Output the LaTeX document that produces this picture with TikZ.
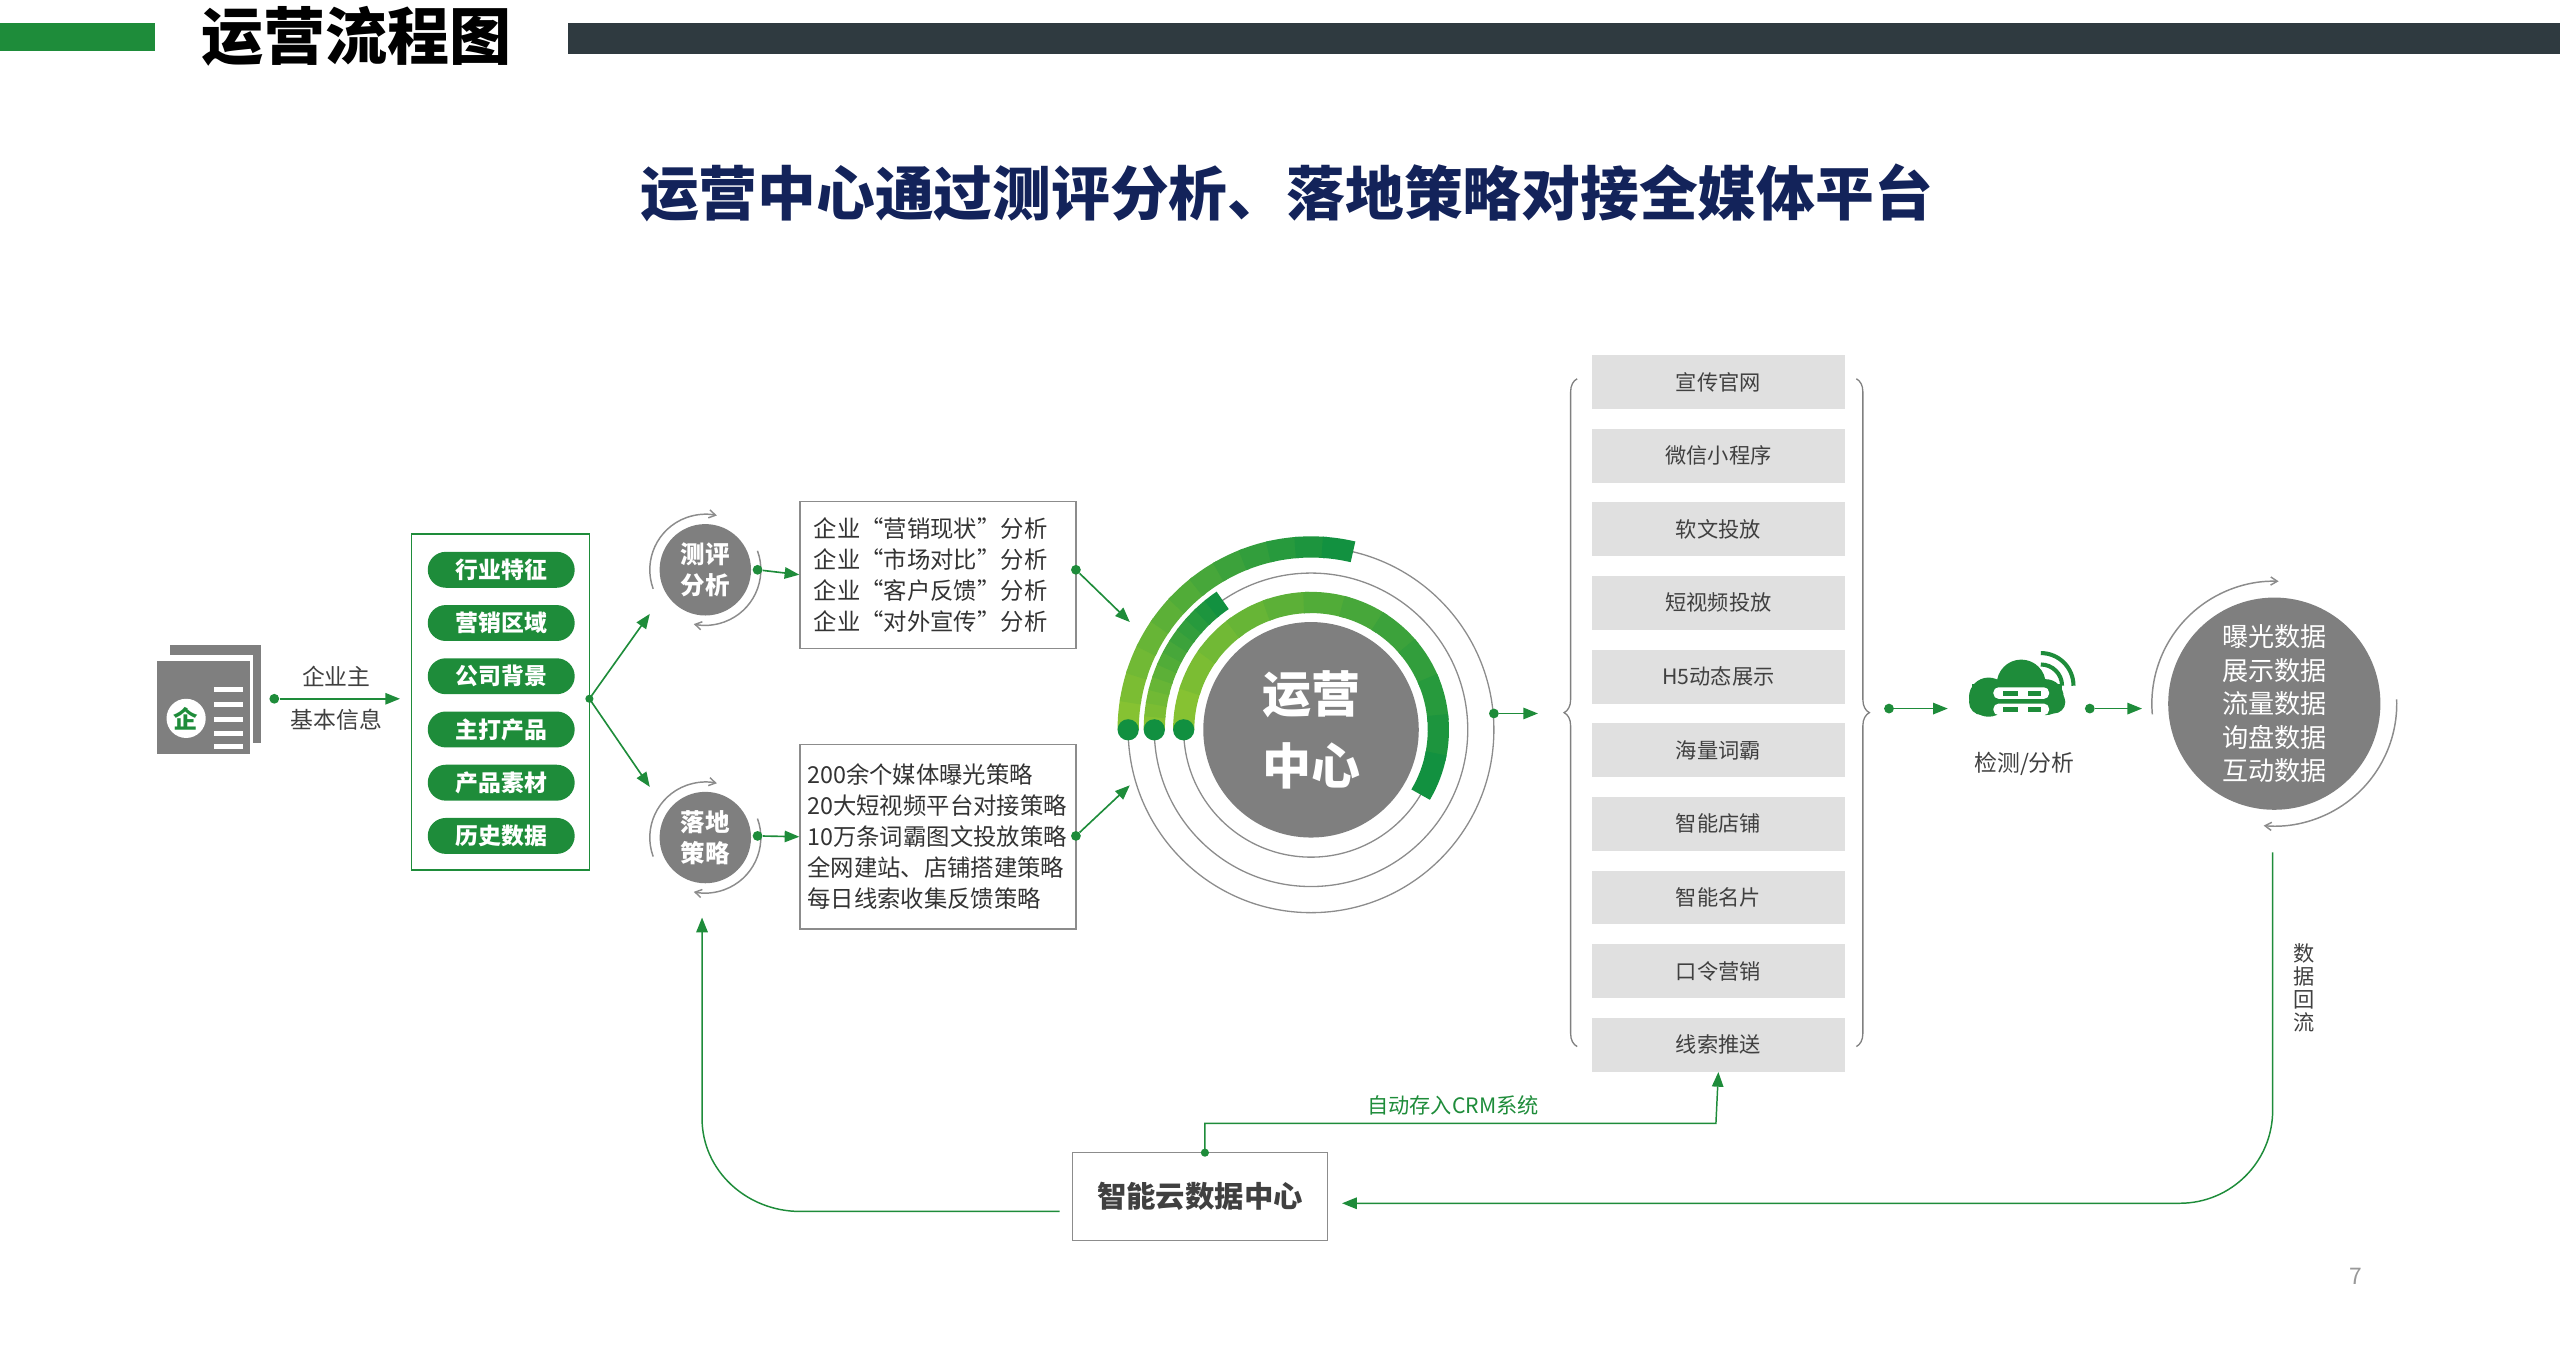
\documentclass[tikz,border=0pt]{standalone}
\usepackage{fontspec}
\setmainfont{Noto Sans CJK SC}
\usetikzlibrary{positioning,arrows.meta,decorations.pathreplacing}
\definecolor{gmain}{HTML}{1E8C3A}
\definecolor{glight}{HTML}{86C232}
\definecolor{gdark}{HTML}{119040}
\definecolor{graydisc}{HTML}{7F7F7F}
\definecolor{navy}{HTML}{13235A}
\definecolor{barc}{HTML}{2F3A40}
\tikzset{
  pill/.style={fill=gmain, rounded corners=11pt, minimum width=90pt, minimum height=22pt, text=white, font=\fontsize{14}{14}\selectfont\bfseries, inner sep=0pt},
  media/.style={fill=black!12, minimum width=155pt, minimum height=33pt, text=black!75, font=\fontsize{13}{13}\selectfont, inner sep=0pt},
  disc/.style={circle, fill=graydisc, text=white, align=center, inner sep=0pt},
  flow/.style={gmain, line width=1pt, -{Triangle[length=9pt,width=7pt]}},
  spin/.style={black!45, line width=0.9pt, -{Straight Barb[length=4pt,width=5pt]}},
  dot/.style={circle, fill=gmain, inner sep=0pt, minimum size=6pt},
  txtbox/.style={draw=black!45, line width=0.8pt, align=left, inner sep=0pt, font=\fontsize{14.3}{19}\selectfont, text=black!80}
}
\begin{document}
\begin{tikzpicture}[x=1pt,y=1pt]
  \useasboundingbox (0,0) rectangle (1568,-840);
  % header
  \fill[gmain] (0,-14) rectangle (95,-31);
  \fill[barc] (348,-14) rectangle (1568,-33);
  \node[font=\fontsize{38}{38}\selectfont\bfseries, anchor=west] (head) at (120,-22) {运营流程图};
  \node[font=\fontsize{36}{36}\selectfont\bfseries, text=navy] (title) at (788,-118) {运营中心通过测评分析、落地策略对接全媒体平台};

  % enterprise icon
  \fill[graydisc] (104,-395) rectangle (160,-455);
  \fill[white] (96,-401) rectangle (155,-462);
  \fill[graydisc] (96,-405) rectangle (153,-462);
  \node[circle, fill=white, minimum size=24pt, inner sep=0pt, text=gmain, font=\fontsize{15}{15}\selectfont\bfseries] (ent) at (114,-440) {企};
  \foreach \yy in {421,430,439,448,456}{
    \fill[white] (131,-\yy) rectangle (149,-\yy-3);
  }
  \node[dot] (d0) at (168,-428) {};
  \coordinate (a0) at (245,-428);
  \draw[flow] (d0) -- (a0);
  \node[font=\fontsize{14}{14}\selectfont, text=black!75] (own) at (206,-414) {企业主};
  \node[font=\fontsize{14}{14}\selectfont, text=black!75] (info) at (206,-441) {基本信息};

  % attributes box
  \draw[gmain, line width=1pt] (252,-327) rectangle (361,-533);
  \foreach \t [count=\i] in {行业特征,营销区域,公司背景,主打产品,产品素材,历史数据}{
    \node[pill] (p\i) at (307,{-349-32.6*(\i-1)}) {\t};
  }
  \coordinate (fork) at (361,-428);
  \coordinate (up) at (398,-376);
  \coordinate (dn) at (398,-482);
  \fill[gmain] (fork) circle (2.5pt);
  \draw[flow] (fork) -- (up);
  \draw[flow] (fork) -- (dn);

  % small circles
  \node[disc, minimum size=56pt, font=\fontsize{15}{19}\selectfont\bfseries] (eval) at (432,-349) {测评\\分析};
  \node[disc, minimum size=56pt, font=\fontsize{15}{19}\selectfont\bfseries] (land) at (432,-513) {落地\\策略};
  \foreach \c in {eval,land}{
    \draw[spin] (\c.center) ++(200:34) arc (200:78:34);
    \draw[spin] (\c.center) ++(20:34) arc (20:-102:34);
  }
  \node[dot] (d1) at (464,-349) {};
  \node[dot] (d2) at (464,-512) {};
  \node[txtbox, minimum width=169pt, minimum height=90pt, text width=152pt] (ana) at (574.5,-352) {企业“营销现状”分析\\企业“市场对比”分析\\企业“客户反馈”分析\\企业“对外宣传”分析};
  \node[txtbox, minimum width=169pt, minimum height=113pt, text width=160pt] (str) at (574.5,-512.5) {200余个媒体曝光策略\\20大短视频平台对接策略\\10万条词霸图文投放策略\\全网建站、店铺搭建策略\\每日线索收集反馈策略};
  \draw[flow] (d1) -- (ana.west);
  \draw[flow] (d2) -- (str.west);
  \node[dot] (d3) at (659,-349) {};
  \node[dot] (d4) at (659,-512) {};
  \coordinate (c1) at (692,-381);
  \coordinate (c2) at (692,-481);
  \draw[flow] (d3) -- (c1);
  \draw[flow] (d4) -- (c2);

  % operation centre
  \node[disc, minimum size=132pt, font=\fontsize{30}{44}\selectfont\bfseries] (core) at (803,-447) {运营\\中心};
  \foreach \r in {78,96,112}{
    \draw[black!45, line width=0.8pt] (core.center) circle (\r);
  }
  \foreach \r/\e in {78/-28,96/125,112/78}{
    \foreach \k in {0,...,11}{
      \pgfmathsetmacro{\aa}{180+(\e-180)*\k/12}
      \pgfmathsetmacro{\bb}{180+(\e-180)*(\k+1.15)/12}
      \pgfmathsetmacro{\mx}{100-\k*9}
      \draw[glight!\mx!gdark, line width=13pt] (core.center) ++(\aa:\r) arc (\aa:\bb:\r);
    }
    \fill[gdark] (core.center) ++(180:\r) circle (6.5);
  }
  \node[dot] (d5) at (915,-437) {};
  \coordinate (c3) at (942,-437);
  \draw[flow] (d5) -- (c3);

  % media column
  \foreach \t [count=\i] in {宣传官网,微信小程序,软文投放,短视频投放,H5动态展示,海量词霸,智能店铺,智能名片,口令营销,线索推送}{
    \node[media] (m\i) at (1052.5,{-234-45.1*(\i-1)}) {\t};
  }
  \draw[black!50, line width=0.8pt, decorate, decoration={brace, amplitude=8pt, mirror}] (966,-232) -- (966,-641);
  \draw[black!50, line width=0.8pt, decorate, decoration={brace, amplitude=8pt}] (1137,-232) -- (1137,-641);

  % monitor
  \node[dot] (d6) at (1157,-434) {};
  \coordinate (c4) at (1193,-434);
  \draw[flow] (d6) -- (c4);
  \begin{scope}[shift={(1238,-425)}]
    \fill[gmain] (-30,-10) rectangle (25,6);
    \fill[gmain] (-20,-2) circle (12);
    \fill[gmain] (0,6) circle (15);
    \fill[gmain] (15,-2) circle (11);
    \fill[gmain] (-24,-5) circle (8);
    \fill[gmain] (20,-5) circle (7);
    \fill[white, rounded corners=3pt] (-17,4) rectangle (17,-3);
    \fill[white, rounded corners=3pt] (-17,-6) rectangle (17,-13);
    \foreach \s in {4,-6}{
      \fill[gmain] (-11,\s-2) rectangle (-2,\s-5);
      \fill[gmain] (4,\s-2) rectangle (12,\s-5);
    }
    \draw[gmain, line width=2.5pt] (12,18) arc (90:0:13);
    \draw[gmain, line width=2.5pt] (12,25) arc (90:0:20);
  \end{scope}
  \node[font=\fontsize{14}{14}\selectfont, text=black!75] (mon) at (1240,-468) {检测/分析};
  \node[dot] (d7) at (1280,-434) {};
  \coordinate (c5) at (1312,-434);
  \draw[flow] (d7) -- (c5);

  % data circle
  \node[disc, minimum size=130pt, font=\fontsize{16}{20.5}\selectfont] (data) at (1393,-431) {曝光数据\\展示数据\\流量数据\\询盘数据\\互动数据};
  \draw[spin] (data.center) ++(185:75) arc (185:88:75);
  \draw[spin] (data.center) ++(2:75) arc (2:-95:75);

  % feedback loop
  \node[draw=black!45, line width=0.8pt, minimum width=156pt, minimum height=54pt, font=\fontsize{18}{18}\selectfont\bfseries, text=black!75] (cloud) at (735,-733) {智能云数据中心};
  \coordinate (fb0) at (1392,-522);
  \coordinate (fbend) at (822,-737);
  \draw[flow, line width=0.9pt] (fb0) -- (1392,-680) to[out=-90, in=0] (1335,-737) -- (fbend);
  \node[font=\fontsize{13}{14}\selectfont, text=black!75, align=center] (back) at (1411,-605) {数\\据\\回\\流};
  \coordinate (fb1) at (649,-742);
  \draw[flow, line width=0.9pt] (fb1) -- (490,-742) to[out=180, in=-90] (430,-685) -- (430,-562);
  \draw[flow, line width=0.9pt] (738,-706) -- (738,-688) -- (1051,-688) -- (m10.south);
  \fill[gmain] (738,-706) circle (2.5pt);
  \node[font=\fontsize{13}{13}\selectfont, text=gmain] (crm) at (890,-677) {自动存入CRM系统};

  \node[font=\fontsize{14}{14}\selectfont, text=black!40] (page) at (1443,-782) {7};
\end{tikzpicture}
\end{document}
